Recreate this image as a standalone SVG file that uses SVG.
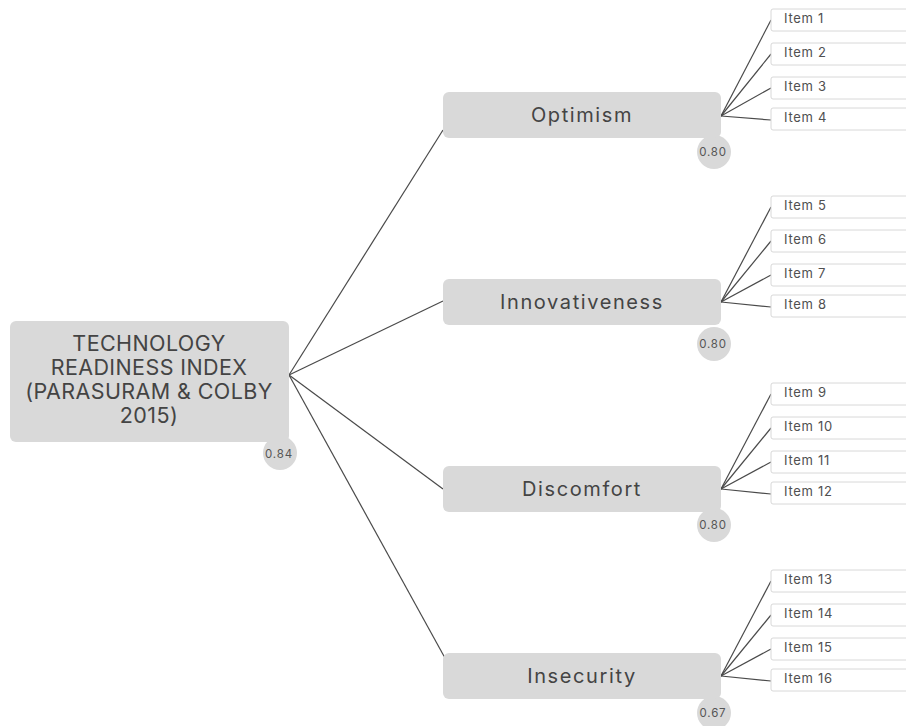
<svg xmlns="http://www.w3.org/2000/svg" width="906" height="726" viewBox="0 0 906 726">
<style>
  .box{fill:#d9d9d9;}
  .badge{fill:#d9d9d9;}
  .item{fill:#ffffff;stroke:#d8d8d8;stroke-width:1;}
  .edge{stroke:#4a4a4a;stroke-width:1.2;fill:none;}
  .t{font-family:Inter,"Liberation Sans",sans-serif;fill:#444;}
  .root{font-size:21.5px;letter-spacing:0.4px;text-anchor:middle;}
  .l2{font-size:20px;letter-spacing:1.6px;text-anchor:middle;}
  .it{font-size:13px;letter-spacing:0.7px;fill:#505050;}
  .bt{font-size:11.5px;letter-spacing:0.8px;text-anchor:middle;fill:#555;}
</style>
<rect width="906" height="726" fill="#ffffff"/>
<g id="connectors">
  <line class="edge" x1="289" y1="375" x2="443" y2="130"/>
  <line class="edge" x1="289" y1="375" x2="443" y2="301"/>
  <line class="edge" x1="289" y1="375" x2="443" y2="489"/>
  <line class="edge" x1="289" y1="375" x2="445" y2="658"/>
  <line class="edge" x1="721" y1="116" x2="771" y2="20"/>
  <line class="edge" x1="721" y1="116" x2="771" y2="54"/>
  <line class="edge" x1="721" y1="116" x2="771" y2="88"/>
  <line class="edge" x1="721" y1="116" x2="771" y2="120"/>
  <line class="edge" x1="721" y1="302" x2="771" y2="207"/>
  <line class="edge" x1="721" y1="302" x2="771" y2="241"/>
  <line class="edge" x1="721" y1="302" x2="771" y2="275"/>
  <line class="edge" x1="721" y1="302" x2="771" y2="307"/>
  <line class="edge" x1="721" y1="489" x2="771" y2="394"/>
  <line class="edge" x1="721" y1="489" x2="771" y2="428"/>
  <line class="edge" x1="721" y1="489" x2="771" y2="462"/>
  <line class="edge" x1="721" y1="489" x2="771" y2="494"/>
  <line class="edge" x1="721" y1="676" x2="771" y2="581"/>
  <line class="edge" x1="721" y1="676" x2="771" y2="615"/>
  <line class="edge" x1="721" y1="676" x2="771" y2="649"/>
  <line class="edge" x1="721" y1="676" x2="771" y2="681"/>
</g>
<g id="root">
  <circle class="badge" cx="280" cy="453" r="17"/>
  <rect class="box" x="10" y="321" width="279" height="121" rx="6"/>
  <text class="t root" x="149" y="351">TECHNOLOGY</text>
  <text class="t root" x="149" y="375">READINESS INDEX</text>
  <text class="t root" x="149" y="399">(PARASURAM &amp; COLBY</text>
  <text class="t root" x="149" y="423">2015)</text>
  <text class="t bt" x="279" y="458">0.84</text>
</g>
<g id="optimism">
  <circle class="badge" cx="714" cy="152" r="17"/>
  <rect class="box" x="443" y="92" width="278" height="46" rx="6"/>
  <text class="t l2" x="582" y="122">Optimism</text>
  <text class="t bt" x="713" y="156">0.80</text>
</g>
<g id="innovativeness">
  <circle class="badge" cx="714" cy="344" r="17"/>
  <rect class="box" x="443" y="279" width="278" height="46" rx="6"/>
  <text class="t l2" x="582" y="309">Innovativeness</text>
  <text class="t bt" x="713" y="348">0.80</text>
</g>
<g id="discomfort">
  <circle class="badge" cx="714" cy="525" r="17"/>
  <rect class="box" x="443" y="466" width="278" height="46" rx="6"/>
  <text class="t l2" x="582" y="496">Discomfort</text>
  <text class="t bt" x="713" y="529">0.80</text>
</g>
<g id="insecurity">
  <circle class="badge" cx="714" cy="713" r="17"/>
  <rect class="box" x="443" y="653" width="278" height="46" rx="6"/>
  <text class="t l2" x="582" y="683">Insecurity</text>
  <text class="t bt" x="713" y="717">0.67</text>
</g>
<g id="item1"><rect class="item" x="771" y="9" width="160" height="22" rx="2"/><text class="t it" x="784" y="23">Item 1</text></g>
<g id="item2"><rect class="item" x="771" y="43" width="160" height="22" rx="2"/><text class="t it" x="784" y="57">Item 2</text></g>
<g id="item3"><rect class="item" x="771" y="77" width="160" height="22" rx="2"/><text class="t it" x="784" y="91">Item 3</text></g>
<g id="item4"><rect class="item" x="771" y="108" width="160" height="22" rx="2"/><text class="t it" x="784" y="122">Item 4</text></g>
<g id="item5"><rect class="item" x="771" y="196" width="160" height="22" rx="2"/><text class="t it" x="784" y="210">Item 5</text></g>
<g id="item6"><rect class="item" x="771" y="230" width="160" height="22" rx="2"/><text class="t it" x="784" y="244">Item 6</text></g>
<g id="item7"><rect class="item" x="771" y="264" width="160" height="22" rx="2"/><text class="t it" x="784" y="278">Item 7</text></g>
<g id="item8"><rect class="item" x="771" y="295" width="160" height="22" rx="2"/><text class="t it" x="784" y="309">Item 8</text></g>
<g id="item9"><rect class="item" x="771" y="383" width="160" height="22" rx="2"/><text class="t it" x="784" y="397">Item 9</text></g>
<g id="item10"><rect class="item" x="771" y="417" width="160" height="22" rx="2"/><text class="t it" x="784" y="431">Item 10</text></g>
<g id="item11"><rect class="item" x="771" y="451" width="160" height="22" rx="2"/><text class="t it" x="784" y="465">Item 11</text></g>
<g id="item12"><rect class="item" x="771" y="482" width="160" height="22" rx="2"/><text class="t it" x="784" y="496">Item 12</text></g>
<g id="item13"><rect class="item" x="771" y="570" width="160" height="22" rx="2"/><text class="t it" x="784" y="584">Item 13</text></g>
<g id="item14"><rect class="item" x="771" y="604" width="160" height="22" rx="2"/><text class="t it" x="784" y="618">Item 14</text></g>
<g id="item15"><rect class="item" x="771" y="638" width="160" height="22" rx="2"/><text class="t it" x="784" y="652">Item 15</text></g>
<g id="item16"><rect class="item" x="771" y="669" width="160" height="22" rx="2"/><text class="t it" x="784" y="683">Item 16</text></g>
</svg>
